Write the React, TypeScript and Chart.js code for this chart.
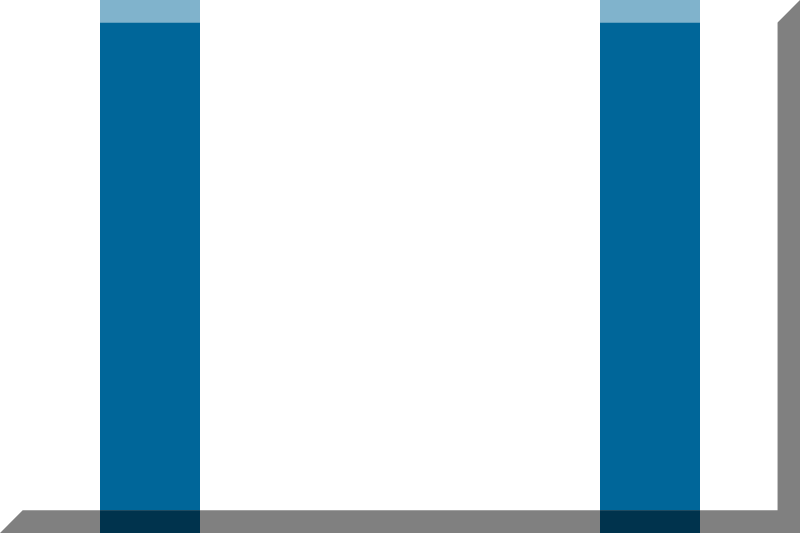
import React, { useEffect, useRef } from 'react';
import { Chart, registerables } from 'chart.js';

Chart.register(...registerables);

const columns = ['a', 'b', 'c', 'd', 'e', 'f', 'g', 'h'];
const stripeShadow = [null, [0, 22.67], null, null, null, null, [0, 22.67], null];
const stripeMain = [null, [22.67, 510.5], null, null, null, null, [22.67, 510.5], null];
const stripeTop = [null, [510.5, 533], null, null, null, null, [510.5, 533], null];
const shadowBottom = [
  { x: 0, y: 0 },
  { x: 22.67, y: 22.67 },
  { x: 800, y: 22.67 },
];
const shadowRight = [
  { x: 777.33, y: 510.33 },
  { x: 800, y: 533 },
];

const App: React.FC = () => {
  const canvasRef = useRef<HTMLCanvasElement | null>(null);

  useEffect(() => {
    document.body.style.margin = '0';
    const ctx = canvasRef.current?.getContext('2d');
    if (!ctx) return;

    const bar = (data: any[], color: string) => ({
      type: 'bar' as const,
      data,
      backgroundColor: color,
      borderWidth: 0,
      inflateAmount: 0,
      barPercentage: 1,
      categoryPercentage: 1,
      grouped: false,
      order: 1,
    });
    const shadow = (data: any[]) => ({
      type: 'line' as const,
      data,
      xAxisID: 'x2',
      borderWidth: 0,
      pointRadius: 0,
      tension: 0,
      fill: 'start',
      backgroundColor: '#808080',
      order: 2,
    });

    const chart = new Chart(ctx, {
      data: {
        labels: columns,
        datasets: [
          bar(stripeShadow, '#00334d'),
          bar(stripeMain, '#006699'),
          bar(stripeTop, '#80b3cc'),
          shadow(shadowBottom),
          shadow(shadowRight),
        ] as any,
      },
      options: {
        animation: false,
        responsive: false,
        devicePixelRatio: 1,
        layout: { padding: 0 },
        scales: {
          x: { display: false, offset: true },
          x2: { type: 'linear', display: false, min: 0, max: 800 },
          y: { display: false, min: 0, max: 533 },
        },
        plugins: {
          legend: { display: false },
          tooltip: { enabled: false },
        },
      },
    });

    return () => chart.destroy();
  }, []);

  return <canvas ref={canvasRef} width={800} height={533} style={{ display: 'block' }} />;
};

export default App;
